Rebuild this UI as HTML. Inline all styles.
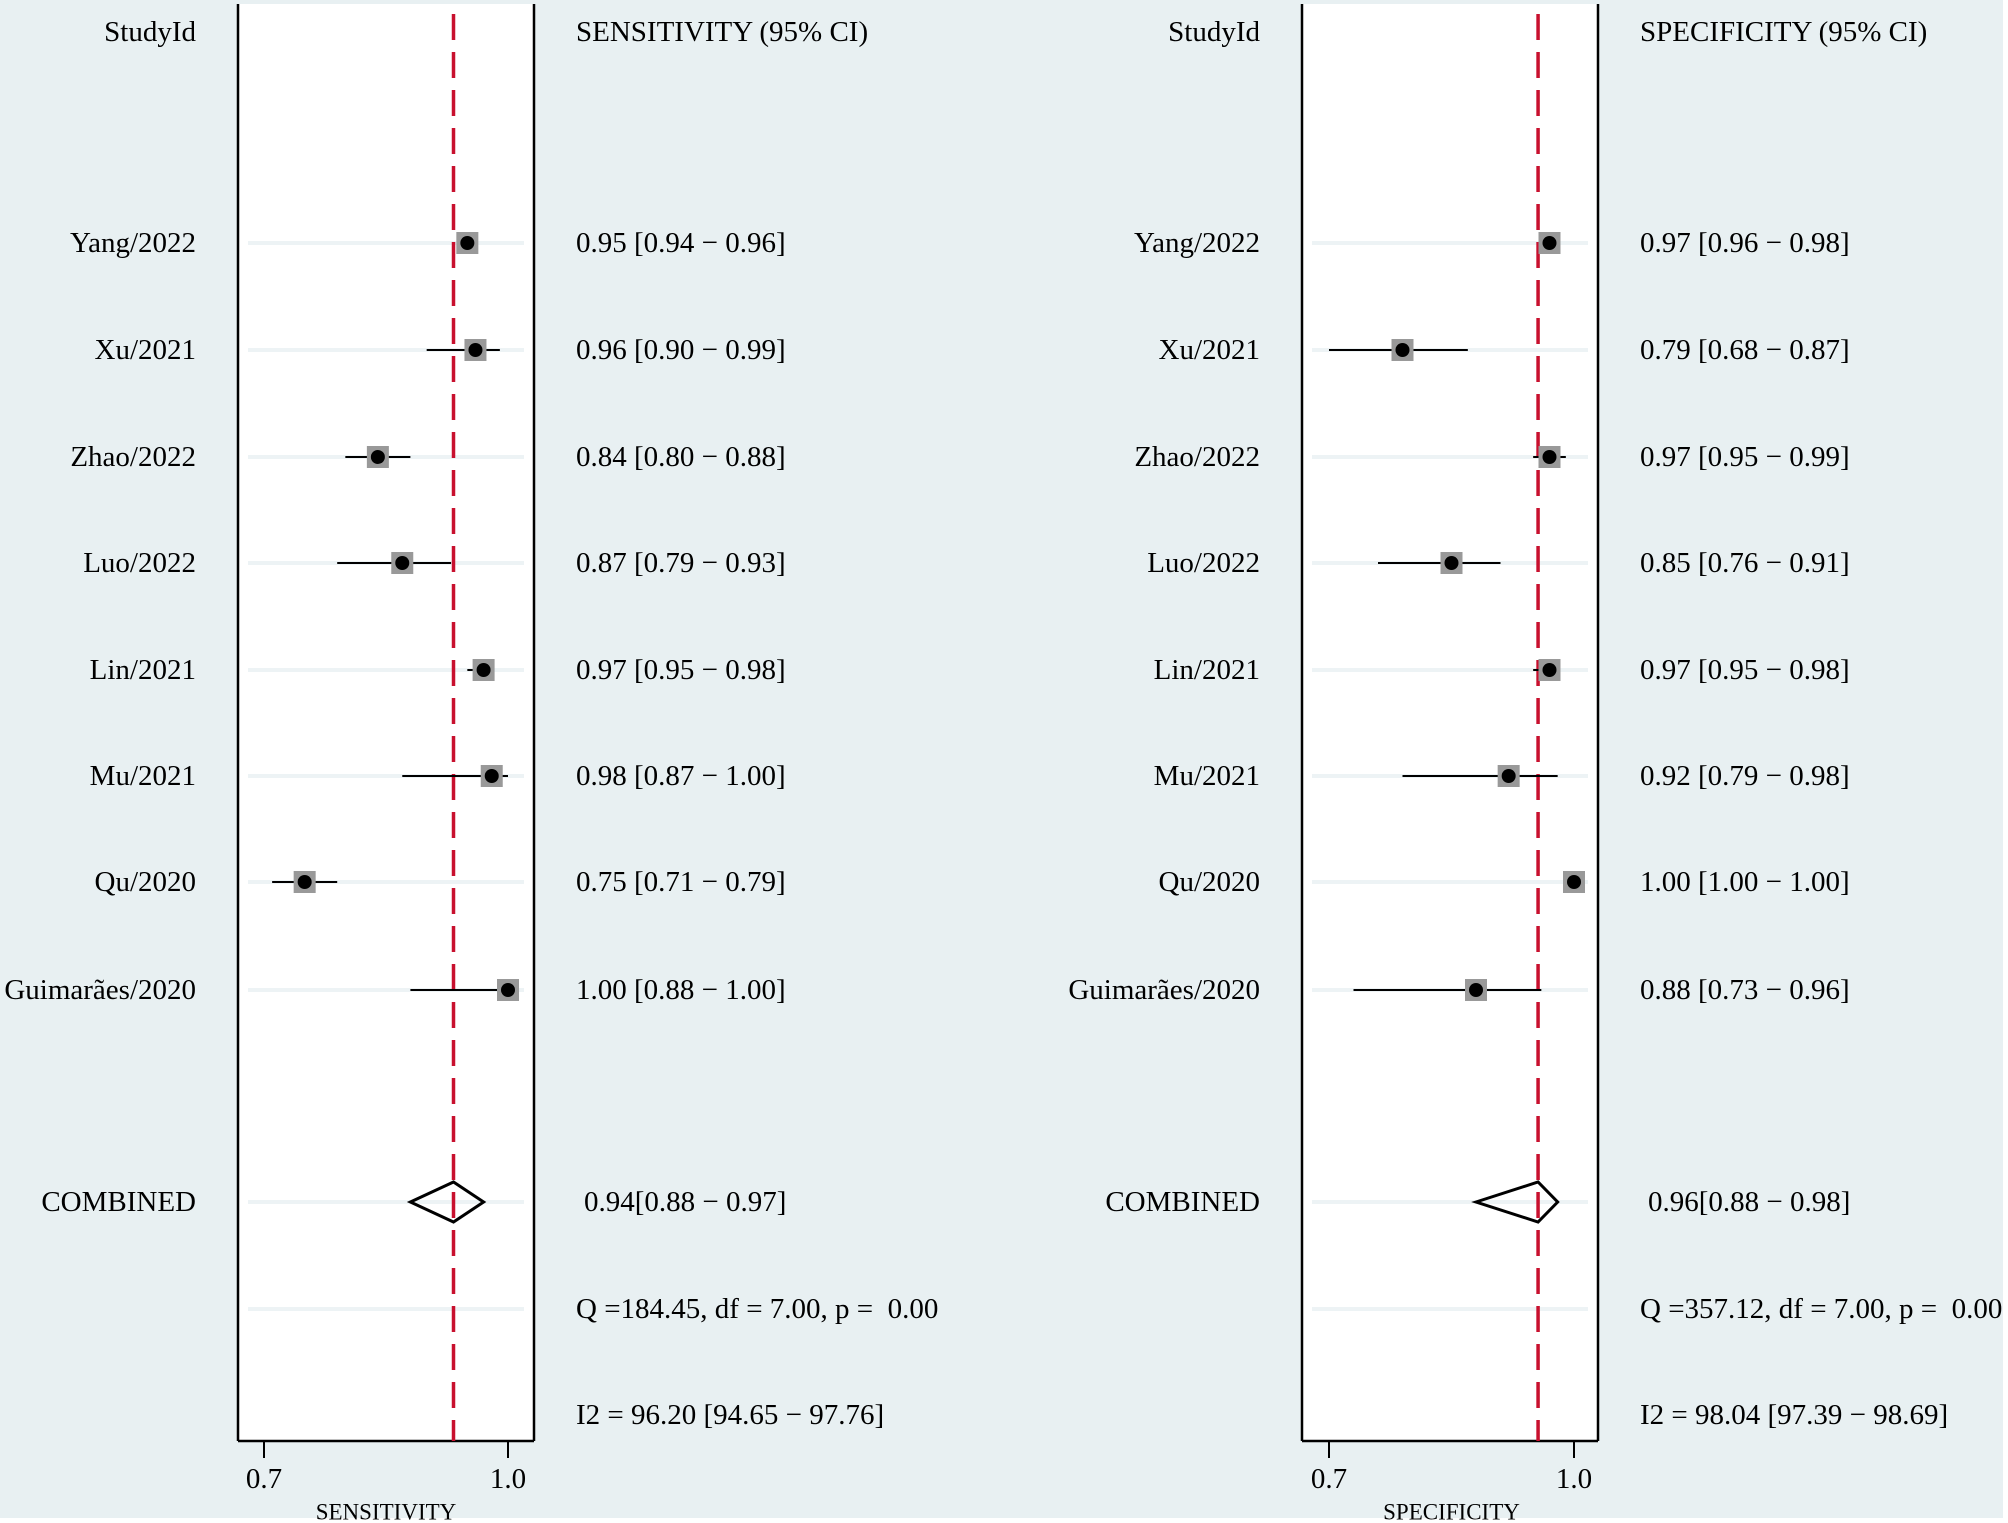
<!DOCTYPE html>
<html><head><meta charset="utf-8">
<style>
html,body{margin:0;padding:0;background:#fff;}
svg{display:block;}
text{font-family:"Liberation Serif",serif;fill:#000;white-space:pre;}
</style></head>
<body>
<svg id="chart" width="2008" height="1523" viewBox="0 0 2008 1523" xmlns="http://www.w3.org/2000/svg">
<rect x="0" y="0" width="2008" height="1523" fill="#fff"/>
<rect x="0" y="0" width="2003" height="1518" fill="#e8f0f2"/>
<g id="plots"></g>
</svg>
<script>
const studies = ["Yang/2022","Xu/2021","Zhao/2022","Luo/2022","Lin/2021","Mu/2021","Qu/2020","Guimarães/2020"];
const sensEst = [0.95,0.96,0.84,0.87,0.97,0.98,0.75,1.00];
const sensLo  = [0.94,0.90,0.80,0.79,0.95,0.87,0.71,0.88];
const sensHi  = [0.96,0.99,0.88,0.93,0.98,1.00,0.79,1.00];
const sensPooled = [0.933,0.88,0.97];
const sensPooledText = "0.94[0.88 − 0.97]";
const sensQ = "Q =184.45, df = 7.00, p =  0.00";
const sensI2 = "I2 = 96.20 [94.65 − 97.76]";
const specEst = [0.97,0.79,0.97,0.85,0.97,0.92,1.00,0.88];
const specLo  = [0.96,0.68,0.95,0.76,0.95,0.79,1.00,0.73];
const specHi  = [0.98,0.87,0.99,0.91,0.98,0.98,1.00,0.96];
const specPooled = [0.956,0.88,0.98];
const specPooledText = "0.96[0.88 − 0.98]";
const specQ = "Q =357.12, df = 7.00, p =  0.00";
const specI2 = "I2 = 98.04 [97.39 − 98.69]";
const xTicks = [0.7,1.0];
const xTickLabels = ["0.7","1.0"];

const NS="http://www.w3.org/2000/svg";
const root=document.getElementById('plots');
function mk(tag,attrs,parent){const e=document.createElementNS(NS,tag);for(const k in attrs)e.setAttribute(k,attrs[k]);(parent||root).appendChild(e);return e;}
function txt(s,x,y,anchor,parent){const t=mk('text',{x:x,y:y,'font-size':29,'text-anchor':anchor||'start','dominant-baseline':'central'},parent);t.textContent=s;return t;}

const rowY=[243,350,457,563,670,776,882,990];
const pooledY=1202, qY=1309, i2Y=1415, headY=32;

function panel(cfg){
  const g=mk('g',{});
  
  
  const L=cfg.boxL,R=cfg.boxR,T=4,B=1441;
  const xs=v=>cfg.x07+(v-0.7)/0.3*(cfg.x10-cfg.x07);
  const box=mk('rect',{x:L,y:T,width:R-L,height:B-T,fill:'#fff',stroke:'none'},g);
  
  
  [...rowY,pooledY,qY].forEach(y=>{
    const l=mk('line',{x1:L+10,x2:R-10,y1:y,y2:y,stroke:'#edf3f5','stroke-width':4},g);
    
    
  });
  mk('line',{x1:L,x2:L,y1:T,y2:B,stroke:'#000','stroke-width':2.5},g);
  mk('line',{x1:R,x2:R,y1:T,y2:B,stroke:'#000','stroke-width':2.5},g);
  const ax=mk('line',{x1:L,x2:R,y1:B,y2:B,stroke:'#000','stroke-width':2.5},g);
  
  
  xTicks.forEach((v,i)=>{
    mk('line',{x1:xs(v),x2:xs(v),y1:B,y2:B+17,stroke:'#000','stroke-width':2},g);
    const t=txt(xTickLabels[i],xs(v),1479,'middle',g);
    
    
  });
  const at=txt(cfg.axisTitle,xs(0.85),1512,'middle',g);
  
  
  at.setAttribute('font-size','23');
  const rl=mk('line',{x1:xs(cfg.pooled[0]),x2:xs(cfg.pooled[0]),y1:14,y2:B,stroke:'#c8102e','stroke-width':3.5,'stroke-dasharray':'26 12'},g);
  
  
  const h1=txt('StudyId',cfg.labelR,headY,'end',g);
  
  
  const h2=txt(cfg.header,cfg.valX,headY,'start',g);
  
  
  studies.forEach((s,i)=>{
    const y=rowY[i];
    const lab=txt(s,cfg.labelR,y,'end',g);
    
    
    const ci=mk('line',{x1:xs(Math.max(cfg.lo[i],0.7)),x2:xs(cfg.hi[i]),y1:y,y2:y,stroke:'#000','stroke-width':2},g);
    
    
    const sq=mk('rect',{x:xs(cfg.est[i])-11,y:y-11,width:22,height:22,fill:'#999'},g);
    
    
    const dot=mk('circle',{cx:xs(cfg.est[i]),cy:y,r:7,fill:'#000'},g);
    
    
    const v=txt(cfg.est[i].toFixed(2)+' ['+cfg.lo[i].toFixed(2)+' − '+cfg.hi[i].toFixed(2)+']',cfg.valX,y,'start',g);
    
    
  });
  const cl=txt('COMBINED',cfg.labelR,pooledY,'end',g);
  
  
  const p=cfg.pooled;
  const d=mk('polygon',{points:`${xs(p[1])},${pooledY} ${xs(p[0])},${pooledY-20} ${xs(p[2])},${pooledY} ${xs(p[0])},${pooledY+20}`,fill:'none',stroke:'#000','stroke-width':3},g);
  
  
  const ct=txt(cfg.pooledText,cfg.valX+8,pooledY,'start',g);
  
  
  const q=txt(cfg.q,cfg.valX,qY,'start',g);
  
  
  const i2=txt(cfg.i2,cfg.valX,i2Y,'start',g);
  
  
}
panel({name:'sensitivity',boxL:238,boxR:534,x07:264,x10:508,labelR:196,valX:576,header:'SENSITIVITY (95% CI)',axisTitle:'SENSITIVITY',est:sensEst,lo:sensLo,hi:sensHi,pooled:sensPooled,pooledText:sensPooledText,q:sensQ,i2:sensI2});
panel({name:'specificity',boxL:1302,boxR:1598,x07:1329,x10:1574,labelR:1260,valX:1640,header:'SPECIFICITY (95% CI)',axisTitle:'SPECIFICITY',est:specEst,lo:specLo,hi:specHi,pooled:specPooled,pooledText:specPooledText,q:specQ,i2:specI2});
</script>
</body></html>
